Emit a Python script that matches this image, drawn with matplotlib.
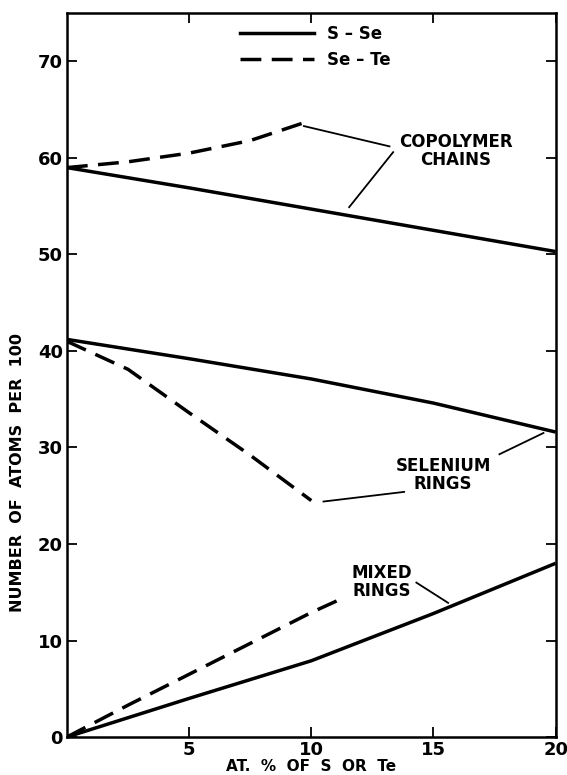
import matplotlib
matplotlib.use("Agg")
import matplotlib.pyplot as plt
from matplotlib.lines import Line2D

plt.rcParams.update({"font.family": "DejaVu Sans", "font.weight": "bold"})

# S-Se (solid) curves
x_sse = [0, 5, 10, 15, 20]
chains_sse = [59.0, 56.9, 54.7, 52.5, 50.3]
serings_sse = [41.2, 39.2, 37.1, 34.6, 31.6]
mixed_sse = [0.0, 4.0, 7.9, 12.8, 18.0]

# Se-Te (dashed) curves
x_sete = [0, 2.5, 5, 7.5, 10]
chains_sete = [59.0, 59.6, 60.5, 61.8, 63.9]
serings_sete = [41.0, 38.1, 33.6, 29.2, 24.5]
x_mixed_sete = [0, 2.5, 5, 7.5, 10, 11.3]
mixed_sete = [0.0, 3.3, 6.5, 9.7, 12.9, 14.4]

xticks = [5, 10, 15, 20]
yticks = [0, 10, 20, 30, 40, 50, 60, 70]

fig = plt.figure(figsize=(5.67, 7.75), dpi=100)
ax = fig.add_axes([0.118, 0.049, 0.862, 0.934])

lw = 2.5
dash = (6, 3)
for y in (chains_sse, serings_sse, mixed_sse):
    ax.plot(x_sse, y, color="black", lw=lw, solid_capstyle="butt")
ax.plot(x_sete, chains_sete, color="black", lw=lw, dashes=dash)
ax.plot(x_sete, serings_sete, color="black", lw=lw, dashes=dash)
ax.plot(x_mixed_sete, mixed_sete, color="black", lw=lw, dashes=dash)

# labels with leader lines
lab = dict(ha="center", va="center", fontsize=12, fontweight="bold", linespacing=1.0)
ax.text(15.9, 60.7, "COPOLYMER\nCHAINS", **lab)
ax.plot([13.2, 9.7], [61.2, 63.3], color="black", lw=1.3)
ax.plot([13.35, 11.55], [60.6, 54.9], color="black", lw=1.3)

ax.text(15.4, 27.2, "SELENIUM\nRINGS", **lab)
ax.plot([17.7, 19.5], [29.3, 31.5], color="black", lw=1.3)
ax.plot([13.8, 10.5], [25.4, 24.4], color="black", lw=1.3)

ax.text(12.9, 16.1, "MIXED\nRINGS", **lab)
ax.plot([14.3, 15.6], [16.0, 13.9], color="black", lw=1.3)

ax.set_xlim(0, 20)
ax.set_ylim(0, 75)
ax.set_xticks(xticks)
ax.set_yticks(yticks)
ax.tick_params(direction="in", length=7, width=1.3, labelsize=13, pad=3,
               top=True, right=True)
for t in ax.get_xticklabels() + ax.get_yticklabels():
    t.set_fontweight("bold")
for s in ax.spines.values():
    s.set_linewidth(1.8)

ax.set_xlabel("AT.  %  OF  S  OR  Te", fontsize=11, fontweight="bold")
ax.xaxis.set_label_coords(0.5, -0.031)
ax.set_ylabel("NUMBER  OF  ATOMS  PER  100", fontsize=11.5, fontweight="bold")
ax.yaxis.set_label_coords(-0.085, 0.365)

handles = [Line2D([], [], color="black", lw=lw),
           Line2D([], [], color="black", lw=lw, dashes=dash)]
ax.legend(handles, ["S – Se", "Se – Te"], loc="upper left",
          bbox_to_anchor=(0.355, 0.984), frameon=False,
          handlelength=4.4, handletextpad=0.8, labelspacing=0.5,
          borderpad=0, borderaxespad=0, prop={"weight": "bold", "size": 12})

fig.savefig("out.png", dpi=100)
